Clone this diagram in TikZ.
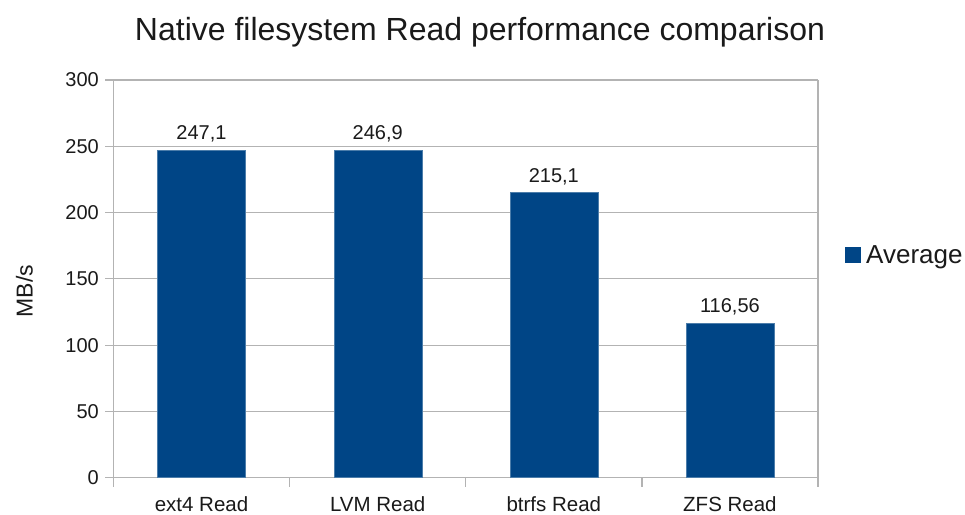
\documentclass[tikz,border=0pt]{standalone}
\usepackage{fontspec}
\setmainfont{Liberation Sans}
\definecolor{seriesblue}{HTML}{004586}
\definecolor{gridgray}{HTML}{B3B3B3}
\definecolor{labelink}{HTML}{1A1A1A}
\begin{document}
\begin{tikzpicture}[x=1pt,y=-1pt,
  grid/.style={draw=gridgray,line width=1.2pt},
  bar/.style={fill=seriesblue,draw=seriesblue!70!white,line width=0.4pt,inner sep=0pt,minimum width=88pt,anchor=south},
  ticklabel/.style={text=labelink,font=\fontsize{20}{24}\selectfont,inner sep=0pt},
  datalabel/.style={text=labelink,font=\fontsize{20}{24}\selectfont,inner sep=0pt,anchor=base},
  catlabel/.style={text=labelink,font=\fontsize{20.5}{24}\selectfont,inner sep=0pt,anchor=base}]
\useasboundingbox[fill=white] (0,0) rectangle (965,514);
\def\yz{477.7}
\def\ys{1.3257}
\def\xl{113.5}
\def\xr{818}
% horizontal gridlines with their tick stubs
\foreach \v in {0,50,...,300}{
  \draw[grid] (105,{\yz-\v*\ys}) -- (\xr,{\yz-\v*\ys});
  \node[ticklabel,anchor=east] at (99,{\yz-\v*\ys}) {\v};
}
% axis frame and category separators
\draw[grid] (\xl,80) -- (\xl,486.7);
\draw[grid] (\xr,80) -- (\xr,486.7);
\foreach \x in {289.6,465.8,641.9}
  \draw[grid] (\x,\yz) -- (\x,486.7);
% bars
\node[bar,minimum height={247.1*\ys pt}] (b1) at (201.5,\yz) {};
\node[bar,minimum height={246.9*\ys pt}] (b2) at (377.7,\yz) {};
\node[bar,minimum height={215.1*\ys pt}] (b3) at (553.8,\yz) {};
\node[bar,minimum height={116.56*\ys pt}] (b4) at (729.9,\yz) {};
% value labels
\node[datalabel] (v1) at ([yshift=10pt]b1.north) {247,1};
\node[datalabel] (v2) at ([yshift=10pt]b2.north) {246,9};
\node[datalabel] (v3) at ([yshift=10pt]b3.north) {215,1};
\node[datalabel] (v4) at ([yshift=10pt]b4.north) {116,56};
% category labels
\node[catlabel] (c1) at (201.5,511.5) {ext4 Read};
\node[catlabel] (c2) at (377.7,511.5) {LVM Read};
\node[catlabel] (c3) at (553.8,511.5) {btrfs Read};
\node[catlabel] (c4) at (729.9,511.5) {ZFS Read};
% axis title
\node[text=labelink,font=\fontsize{23}{26}\selectfont,rotate=90,anchor=base,inner sep=0pt] (ytitle) at (32.5,291) {MB/s};
% chart title
\node[text=labelink,font=\fontsize{32}{36}\selectfont,anchor=base,inner sep=0pt] (title) at (480,40) {Native filesystem Read performance comparison};
% legend
\node[fill=seriesblue,minimum size=16pt,inner sep=0pt] (key) at (853,254.5) {};
\node[text=labelink,font=\fontsize{26}{28}\selectfont,anchor=base west,inner sep=0pt] (keytext) at (866,263) {Average};
\end{tikzpicture}
\end{document}
